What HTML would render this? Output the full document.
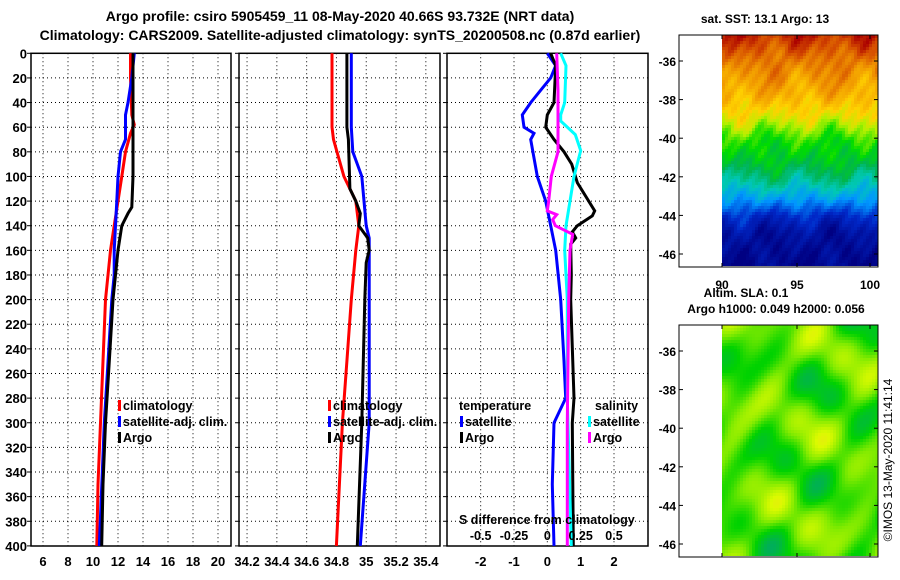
<!DOCTYPE html>
<html><head><meta charset="utf-8"><style>
html,body{margin:0;padding:0;background:#fff}
svg{display:block;font-family:"Liberation Sans",Arial,sans-serif;font-weight:bold}
</style></head><body>
<svg id="c" width="900" height="580" viewBox="0 0 900 580">
<text x="340" y="21" font-size="14" text-anchor="middle">Argo profile: csiro 5905459_11 08-May-2020 40.66S 93.732E (NRT data)</text>
<text x="340" y="40" font-size="14" text-anchor="middle">Climatology: CARS2009. Satellite-adjusted climatology: synTS_20200508.nc (0.87d earlier)</text>
<g id="maps"></g>
<text x="765" y="23" font-size="12" text-anchor="middle">sat. SST: 13.1 Argo: 13</text>
<text x="746" y="297" font-size="12" text-anchor="middle">Altim. SLA: 0.1</text>
<text x="776" y="313" font-size="12" text-anchor="middle">Argo h1000: 0.049 h2000: 0.056</text>
<text transform="translate(892,460) rotate(-90)" font-size="12" font-weight="normal" text-anchor="middle">©IMOS 13-May-2020 11:41:14</text>
</svg>
<script>
// depth ticks
const depthTicks=[0,20,40,60,80,100,120,140,160,180,200,220,240,260,280,300,320,340,360,380,400];
// panel 1 temperature
const tTicks=[6,8,10,12,14,16,18,20];
const tClimD=[0,20,50,58,65,80,100,120,140,160,180,200,250,300,350,400];
const tClimV=[13.0,13.0,13.1,13.3,13.0,12.6,12.3,12.0,11.7,11.4,11.2,11.0,10.8,10.6,10.4,10.3];
const tSatD=[0,20,40,50,70,80,100,120,140,160,180,200,300,400];
const tSatV=[13.3,13.1,12.8,12.6,12.6,12.2,12.0,11.9,11.8,11.7,11.7,11.5,10.9,10.5];
const tArgoD=[0,20,60,100,125,130,140,160,180,200,250,300,350,400];
const tArgoV=[13.2,13.2,13.2,13.2,13.1,12.8,12.3,12.0,11.8,11.6,11.3,11.0,10.8,10.7];
// panel 2 salinity
const sTicks=[34.2,34.4,34.6,34.8,35,35.2,35.4];
const sTickLabels=["34.2","34.4","34.6","34.8","35","35.2","35.4"];
const sClimD=[0,60,70,100,120,140,160,200,250,300,350,400];
const sClimV=[34.77,34.77,34.78,34.85,34.93,34.95,34.93,34.9,34.87,34.84,34.82,34.8];
const sSatD=[0,60,80,100,140,150,200,300,400];
const sSatV=[34.9,34.9,34.91,34.97,35.0,35.02,35.02,35.02,34.96];
const sArgoD=[0,60,70,110,120,130,140,150,160,170,200,300,400];
const sArgoV=[34.87,34.87,34.88,34.89,34.93,34.96,34.95,35.01,35.02,35.0,34.99,34.97,34.94];
// panel 3 differences
const dTicks=[-2,-1,0,1,2];
const dSTicks=[-0.5,-0.25,0,0.25,0.5];
const dTSatD=[0,10,20,30,40,50,60,65,70,85,100,120,140,160,200,250,280,300,350,400];
const dTSatV=[0,0.25,0.1,-0.2,-0.5,-0.75,-0.7,-0.4,-0.5,-0.4,-0.3,-0.05,0.1,0.25,0.4,0.5,0.55,0.2,0.15,0.2];
const dTArgoD=[0,10,40,50,60,70,80,90,105,128,132,140,145,150,155,180,200,280,300,400];
const dTArgoV=[0.1,0.25,0.2,0,-0.05,0.2,0.5,0.73,0.9,1.42,1.35,0.9,0.75,0.85,0.7,0.72,0.7,0.8,0.75,0.78];
const dSSatD=[0,10,40,50,55,66,79,100,120,140,160,200,280,400];
const dSSatV=[0.1,0.14,0.13,0.1,0.1,0.21,0.25,0.2,0.17,0.14,0.13,0.15,0.15,0.18];
const dSArgoD=[0,30,60,80,100,120,128,131,135,140,147,160,200,300,400];
const dSArgoV=[0.07,0.08,0.08,0.08,0.03,0.01,0,0.07,0.04,0.06,0.19,0.17,0.16,0.15,0.15];

const NS="http://www.w3.org/2000/svg";
const svg=document.getElementById('c');
function el(t,a,p){const e=document.createElementNS(NS,t);for(const k in a)e.setAttribute(k,a[k]);(p||svg).appendChild(e);return e;}
const Y0=53.3,YS=1.2315;
function yD(d){return Y0+d*YS;}

function panel(name,x0,x1,dmin,dmax,ticks,labels,showY){
  const g=el('g',{});
  
  
  const sx=v=>x0+(v-dmin)/(dmax-dmin)*(x1-x0);
  ticks.forEach((t,i)=>{
    const X=sx(t);
    const l=el('line',{x1:X,x2:X,y1:Y0,y2:546,stroke:'#000','stroke-dasharray':'1,3'},g);
    
    
    const tx=el('text',{x:X,y:566,'font-size':13,'text-anchor':'middle'},g);
    
    
    tx.textContent=labels?labels[i]:String(t);
  });
  depthTicks.forEach(d=>{
    const Yv=yD(d);
    if(d>0&&d<400){
      const l=el('line',{x1:x0,x2:x1,y1:Yv,y2:Yv,stroke:'#000','stroke-dasharray':'1,3'},g);
      
      
    }
    el('line',{x1:x0-4,x2:x0,y1:Yv,y2:Yv,stroke:'#000'},g);
    if(showY){
      const tx=el('text',{x:27,y:Yv+5,'font-size':13,'text-anchor':'end'},g);
      
      
      tx.textContent=String(d);
    }
  });
  const r=el('rect',{x:x0,y:Y0,width:x1-x0,height:546-Y0,fill:'none',stroke:'#000','stroke-width':1.5},g);
  
  
  return {g,sx};
}
function line(p,D,V,color,name,scale){
  const pts=D.map((d,i)=>p.sx(V[i]*(scale||1)).toFixed(1)+','+yD(d).toFixed(1)).join(' ');
  const pl=el('polyline',{points:pts,fill:'none',stroke:color,'stroke-width':3},p.g);
  
  
}
function legend(g,x,y,color,label,name){
  const m=el('rect',{x:x,y:y-10,width:3,height:11,fill:color},g);
  
  
  const t=el('text',{x:x+5,y:y,'font-size':12.5},g);
  
  
  t.textContent=label;
}
// Panel 1
const p1=panel('temperature-panel',31,231,5.04,21.04,tTicks,null,true);
line(p1,tClimD,tClimV,'#f00','climatology-temperature-line');
line(p1,tSatD,tSatV,'#00f','satellite-temperature-line');
line(p1,tArgoD,tArgoV,'#000','argo-temperature-line');
legend(p1.g,118,410,'#f00','climatology','legend-climatology');
legend(p1.g,118,426,'#00f','satellite-adj. clim.','legend-satellite');
legend(p1.g,118,442,'#000','Argo','legend-argo');
// Panel 2
const p2=panel('salinity-panel',239,440,34.146,35.495,sTicks,sTickLabels,false);
line(p2,sClimD,sClimV,'#f00','climatology-salinity-line');
line(p2,sSatD,sSatV,'#00f','satellite-salinity-line');
line(p2,sArgoD,sArgoV,'#000','argo-salinity-line');
legend(p2.g,328,410,'#f00','climatology','legend-climatology-2');
legend(p2.g,328,426,'#00f','satellite-adj. clim.','legend-satellite-2');
legend(p2.g,328,442,'#000','Argo','legend-argo-2');
// Panel 3
const p3=panel('difference-panel',447,648,-3.01,3.02,dTicks,null,false);
line(p3,dTSatD,dTSatV,'#00f','satellite-temperature-diff-line');
line(p3,dTArgoD,dTArgoV,'#000','argo-temperature-diff-line');
line(p3,dSSatD,dSSatV,'#0ff','satellite-salinity-diff-line',4);
line(p3,dSArgoD,dSArgoV,'#f0f','argo-salinity-diff-line',4);
(function(){
  const t=el('text',{x:459,y:410,'font-size':12.5},p3.g);
  
  
  t.textContent='temperature';
  const s=el('text',{x:595,y:410,'font-size':12.5},p3.g);
  
  
  s.textContent='salinity';
  legend(p3.g,460,426,'#00f','satellite','legend-t-satellite');
  legend(p3.g,460,442,'#000','Argo','legend-t-argo');
  legend(p3.g,588,426,'#0ff','satellite','legend-s-satellite');
  legend(p3.g,588,442,'#f0f','Argo','legend-s-argo');
  const h=el('text',{x:459,y:524,'font-size':12.5},p3.g);
  
  
  h.textContent='S difference from climatology';
  dSTicks.forEach(v=>{
    const tx=el('text',{x:p3.sx(v*4),y:540,'font-size':12.5,'text-anchor':'middle'},p3.g);
    
    
    tx.textContent=String(v);
  });
})();

// Maps
const mg=document.getElementById('maps');
function ramp(stops,v){v=Math.max(0,Math.min(1,v));
  for(let i=1;i<stops.length;i++){if(v<=stops[i][0]){const a=stops[i-1],b=stops[i],f=(v-a[0])/(b[0]-a[0]);return 'rgb('+a[1].map((c,k)=>Math.round(c+(b[1][k]-c)*f)).join(',')+')';}}
  const l=stops[stops.length-1][1];return 'rgb('+l.join(',')+')';}
const jetStops=[[0,[0,0,130]],[0.15,[0,40,200]],[0.28,[0,150,255]],[0.38,[0,200,180]],[0.47,[0,180,80]],[0.55,[0,220,0]],[0.65,[180,240,0]],[0.72,[255,210,0]],[0.82,[240,150,0]],[0.92,[210,70,0]],[1,[170,0,0]]];
const slaStops=[[0,[0,170,100]],[0.3,[0,210,0]],[0.55,[130,235,0]],[0.8,[220,250,0]],[1,[250,210,40]]];
function sstBase(f){
  const p=[[0,0.95],[0.1,0.86],[0.25,0.78],[0.35,0.69],[0.45,0.56],[0.55,0.5],[0.62,0.42],[0.7,0.3],[0.78,0.14],[0.85,0.06],[1,0.02]];
  for(let i=1;i<p.length;i++){if(f<=p[i][0]){const t=(f-p[i-1][0])/(p[i][0]-p[i-1][0]);return p[i-1][1]+(p[i][1]-p[i-1][1])*t;}}
  return 0.02;}
function drawMap(name,top,kind){
  const g=el('g',{},mg);
  
  
  const cols=52,rows=77,cw=3,x0=722;
  for(let r=0;r<rows;r++){for(let c=0;c<cols;c++){
    let col;
    if(kind==='sst'){
      const f=r/rows;
      let v=sstBase(f)+0.04*Math.sin(c*0.3)*Math.cos(r*0.2)+0.03*Math.sin(c*0.55+1)*Math.sin(r*0.37)+0.02*Math.sin(c*1.3+r*0.9);
      col=ramp(jetStops,v);
    }else{
      let v=0.45+0.2*Math.sin(c*0.22+1)*Math.cos(r*0.17)+0.15*Math.sin(c*0.09-r*0.21)+0.08*Math.cos(c*0.4+r*0.3);
      col=ramp(slaStops,v);
    }
    el('rect',{x:x0+c*cw,y:top+r*cw,width:cw,height:cw,fill:col},g);
  }}
  const bottom=top+232;
  const fr=el('rect',{x:679,y:top,width:199,height:232,fill:'none',stroke:'#000','stroke-width':1},g);
  
  
  [-36,-38,-40,-42,-44,-46].forEach((lat,i)=>{
    const Yv=top+26+i*38.6;
    el('line',{x1:679,x2:683,y1:Yv,y2:Yv,stroke:'#000'},g);
    el('line',{x1:874,x2:878,y1:Yv,y2:Yv,stroke:'#000'},g);
    const t=el('text',{x:676,y:Yv+5,'font-size':12,'text-anchor':'end'},g);
    
    
    t.textContent=String(lat);
  });
  [[90,722],[95,797],[100,870]].forEach(([lon,X])=>{
    el('line',{x1:X,x2:X,y1:bottom-4,y2:bottom,stroke:'#000'},g);
    el('line',{x1:X,x2:X,y1:top,y2:top+4,stroke:'#000'},g);
    if(kind==='sst'){
      const t=el('text',{x:X,y:289,'font-size':12,'text-anchor':'middle'},g);
      
      
      t.textContent=String(lon);
    }
  });
}
drawMap('sst-map',35,'sst');
drawMap('sla-map',325,'sla');
</script>
</body></html>
